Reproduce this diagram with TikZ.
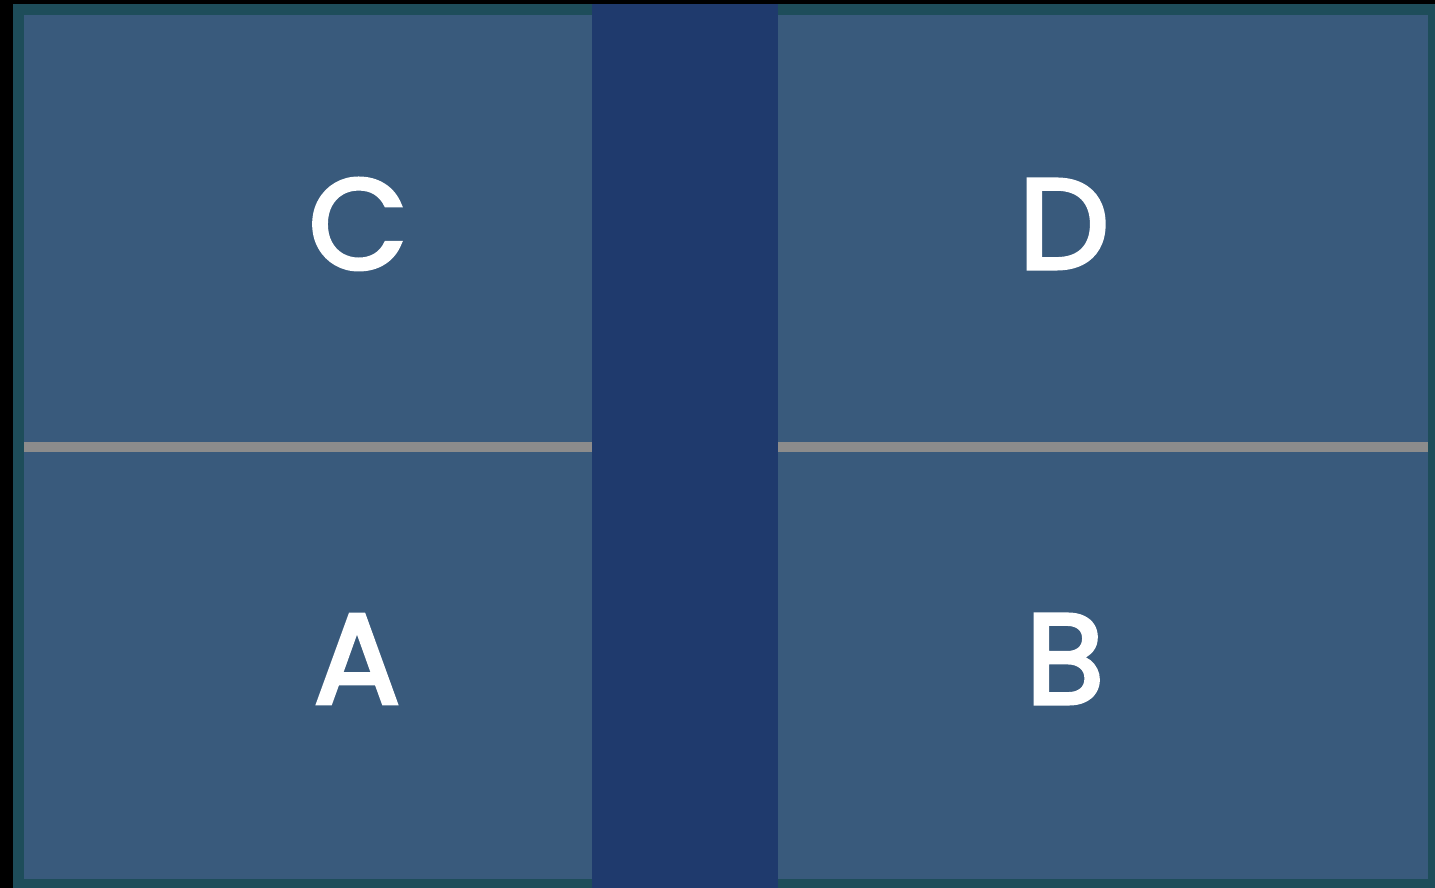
\documentclass[tikz,border=0pt]{standalone}
\usepackage{fontspec}
\setmainfont{Poppins}[FakeBold=3]
\definecolor{courtOuter}{RGB}{0,0,0}
\definecolor{courtEdge}{RGB}{30,77,90}
\definecolor{courtPanel}{RGB}{57,90,124}
\definecolor{courtBand}{RGB}{31,58,109}
\definecolor{courtLine}{RGB}{140,140,140}
\definecolor{courtText}{RGB}{255,255,255}

\begin{document}
\begin{tikzpicture}[x=1pt,y=1pt,
      zone/.style={font=\fontsize{128}{128}\selectfont\mdseries\addfontfeature{FakeBold=3},
        text=courtText, inner sep=0pt, anchor=center},
      panel/.style={fill=courtPanel},
      divider/.style={draw=courtLine, line width=10pt}]
      \useasboundingbox (0,0) rectangle (1435,888);
      \fill[courtOuter] (0,0) rectangle (1435,888);
      \fill[courtEdge] (13,0) rectangle (1435,884);
      \path[panel] (24,9) rectangle (1428,873);
      \fill[courtBand] (592,0) rectangle (778,884);

      \draw[divider] (24,441) -- (592,441);
      \draw[divider] (778,441) -- (1428,441);

      \node[zone] (zoneC) at (358,664) {C};
      \node[zone] (zoneD) at (1064,664) {D};
      \node[zone] (zoneA) at (357,229) {A};
      \node[zone] (zoneB) at (1065,229) {B};
    \end{tikzpicture}
\end{document}
